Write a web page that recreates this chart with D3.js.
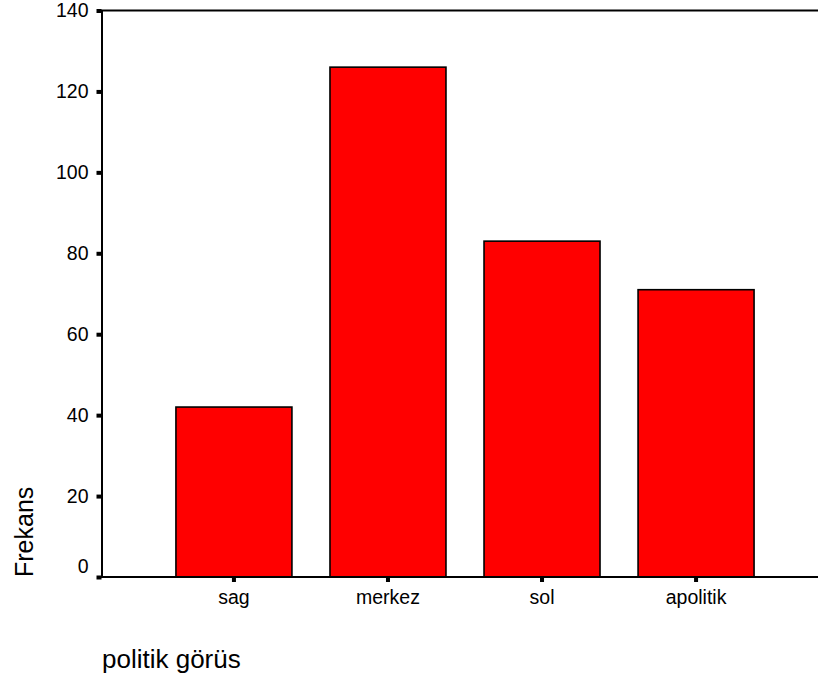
<!DOCTYPE html>
<html><head><meta charset="utf-8">
<script src="https://cdn.jsdelivr.net/npm/d3@7"></script>
<style>body{margin:0;background:#fff}svg{display:block}text{font-family:"Liberation Sans",Arial,sans-serif;fill:#000}</style>
</head><body><svg id="c" width="818" height="686"></svg>
<script>
const categories = ["sag","merkez","sol","apolitik"];
const values = [42,126,83,71];
const yTicks = [0,20,40,60,80,100,120,140];
const yTitle = "Frekans";
const xTitle = "politik görüs";

const svg = d3.select("#c");
const x = d3.scaleBand().domain(categories).range([102,828]).paddingInner(0.247).paddingOuter(0.48);
const y = d3.scaleLinear().domain([0,140]).range([577,10.5]);

// bars
svg.append("g").selectAll("rect").data(values).join("rect")
  .attr("x",(d,i)=>x(categories[i])).attr("width",x.bandwidth())
  .attr("y",d=>y(d)).attr("height",d=>y(0)-y(d))
  .attr("fill","#ff0000").attr("stroke","#000").attr("stroke-width",1.6);

// frame lines
svg.append("line").attr("x1",101).attr("x2",818).attr("y1",y(140)).attr("y2",y(140)).attr("stroke","#000").attr("stroke-width",2);
svg.append("line").attr("x1",101).attr("x2",818).attr("y1",y(0)).attr("y2",y(0)).attr("stroke","#000").attr("stroke-width",2);

// y axis
const ya = d3.axisLeft(y).tickValues(yTicks).tickSize(0).tickPadding(13);
const yg = svg.append("g").attr("transform","translate(101.5,0)").call(ya);
yg.select(".domain").attr("stroke","#000").attr("stroke-width",2);
yg.selectAll(".tick text").attr("font-size",19.5).attr("font-family","Liberation Sans, Arial, sans-serif")
  .attr("y",d=>d===0?-11:0);
yg.selectAll(".tick").append("rect").attr("x",-5).attr("y",-2).attr("width",5).attr("height",4).attr("fill","#000");

// x axis
const xa = d3.axisBottom(x).tickSize(0).tickPadding(13);
const xg = svg.append("g").attr("transform",`translate(0,${y(0)})`).call(xa);
xg.select(".domain").remove();
xg.selectAll(".tick text").attr("font-size",19.5).attr("font-family","Liberation Sans, Arial, sans-serif");
xg.selectAll(".tick").append("rect").attr("x",-2).attr("y",0).attr("width",4).attr("height",5).attr("fill","#000");

// titles
svg.append("text").attr("transform","translate(33,577) rotate(-90)").attr("font-size",25).text(yTitle);
svg.append("text").attr("x",102).attr("y",668).attr("font-size",26).text(xTitle);
</script></body></html>
